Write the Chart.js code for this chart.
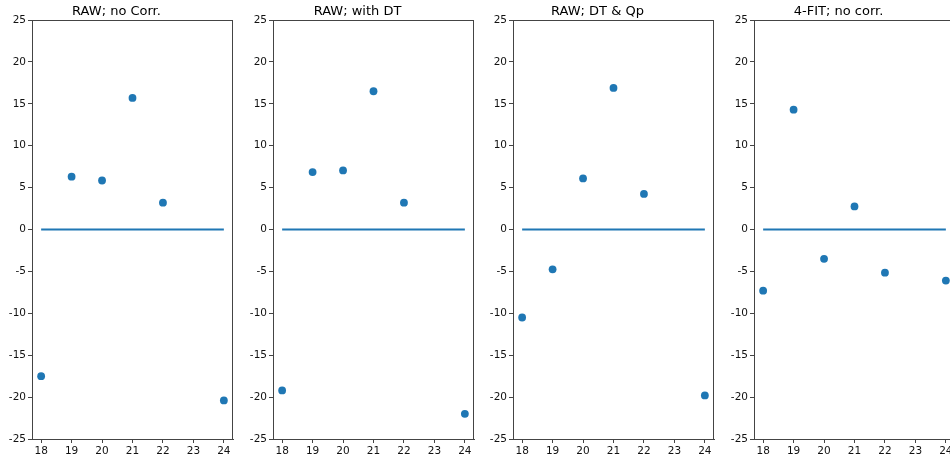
<!DOCTYPE html>
<html>
<head>
<meta charset="utf-8">
<script src="https://cdn.jsdelivr.net/npm/chart.js@4/dist/chart.umd.min.js"></script>
<style>
  html, body { margin: 0; padding: 0; background: #fff; }
  body { width: 950px; height: 459px; overflow: hidden; position: relative; }
  .panel { position: absolute; top: 0; width: 241px; height: 459px; }
</style>
</head>
<body>
<div class="panel" style="left:0px"><canvas id="c0" width="241" height="459"></canvas></div>
<div class="panel" style="left:241px"><canvas id="c1" width="241" height="459"></canvas></div>
<div class="panel" style="left:481px"><canvas id="c2" width="241" height="459"></canvas></div>
<div class="panel" style="left:722px"><canvas id="c3" width="241" height="459"></canvas></div>
<script>
// ---- data ----
const titles = ["RAW; no Corr.", "RAW; with DT", "RAW; DT & Qp", "4-FIT; no corr."];
const xValues = [18, 19, 20, 21, 22, 24];
const rawNoCorr = [-17.5, 6.3, 5.85, 15.7, 3.2, -20.4];
const rawWithDT = [-19.2, 6.85, 7.05, 16.5, 3.2, -22.0];
const rawDTQp  = [-10.5, -4.75, 6.1, 16.9, 4.25, -19.8];
const fitNoCorr = [-7.3, 14.3, -3.5, 2.75, -5.15, -6.1];
const zeroLineX = [18, 24];
const zeroLineY = [0, 0];
const xTicks = [18, 19, 20, 21, 22, 23, 24];
const yTicks = [-25, -20, -15, -10, -5, 0, 5, 10, 15, 20, 25];
const seriesList = [rawNoCorr, rawWithDT, rawDTQp, fitNoCorr];

const BLUE = '#1f77b4';
const AXIS = '#444444';

const boxPlugin = {
  id: 'box',
  afterDraw(chart) {
    const a = chart.chartArea, ctx = chart.ctx;
    ctx.save();
    ctx.strokeStyle = AXIS;
    ctx.lineWidth = 1;
    ctx.strokeRect(Math.round(a.left) + 0.5, Math.round(a.top) + 0.5,
                   Math.round(a.right - a.left) - 1, Math.round(a.bottom - a.top));
    ctx.restore();
  }
};

function makeChart(idx) {
  const vals = seriesList[idx];
  const pts = xValues.map((x, i) => ({ x: x, y: vals[i] }));
  const line = zeroLineX.map((x, i) => ({ x: x, y: zeroLineY[i] }));
  new Chart(document.getElementById('c' + idx), {
    type: 'scatter',
    data: {
      datasets: [
        {
          data: line, showLine: true, borderColor: BLUE, borderWidth: 2,
          pointRadius: 0, pointHoverRadius: 0, fill: false
        },
        {
          data: pts, backgroundColor: BLUE, borderColor: BLUE,
          pointRadius: 3.9, pointBorderWidth: 0, pointHoverRadius: 3.9
        }
      ]
    },
    options: {
      responsive: false,
      animation: false,
      events: [],
      layout: { padding: { left: 0, right: 8, top: 0, bottom: 0 } },
      plugins: {
        legend: { display: false },
        tooltip: { enabled: false },
        title: {
          display: true,
          text: titles[idx],
          color: '#000',
          font: { family: 'DejaVu Sans', size: 13, weight: 'normal', lineHeight: '14px' },
          padding: { top: 5, bottom: 1 }
        }
      },
      scales: {
        x: {
          type: 'linear',
          min: 17.7, max: 24.3,
          afterFit(s) { s.height = 20; },
          afterBuildTicks(s) { s.ticks = xTicks.map(v => ({ value: v })); },
          ticks: {
            color: '#111', padding: 2, maxRotation: 0, autoSkip: false,
            font: { family: 'DejaVu Sans', size: 10.5 },
            callback: v => String(v)
          },
          grid: { drawOnChartArea: false, drawTicks: true, tickLength: 4, color: AXIS },
          border: { display: true, color: AXIS, width: 1 }
        },
        y: {
          type: 'linear',
          min: -25, max: 25,
          afterFit(s) { s.width = 32; },
          afterBuildTicks(s) { s.ticks = yTicks.map(v => ({ value: v })); },
          ticks: {
            color: '#111', padding: 2, autoSkip: false,
            font: { family: 'DejaVu Sans', size: 10.5 },
            callback: v => String(v)
          },
          grid: { drawOnChartArea: false, drawTicks: true, tickLength: 4, color: AXIS },
          border: { display: true, color: AXIS, width: 1 }
        }
      }
    },
    plugins: [boxPlugin]
  });
}
for (let i = 0; i < 4; i++) makeChart(i);
</script>
</body>
</html>
